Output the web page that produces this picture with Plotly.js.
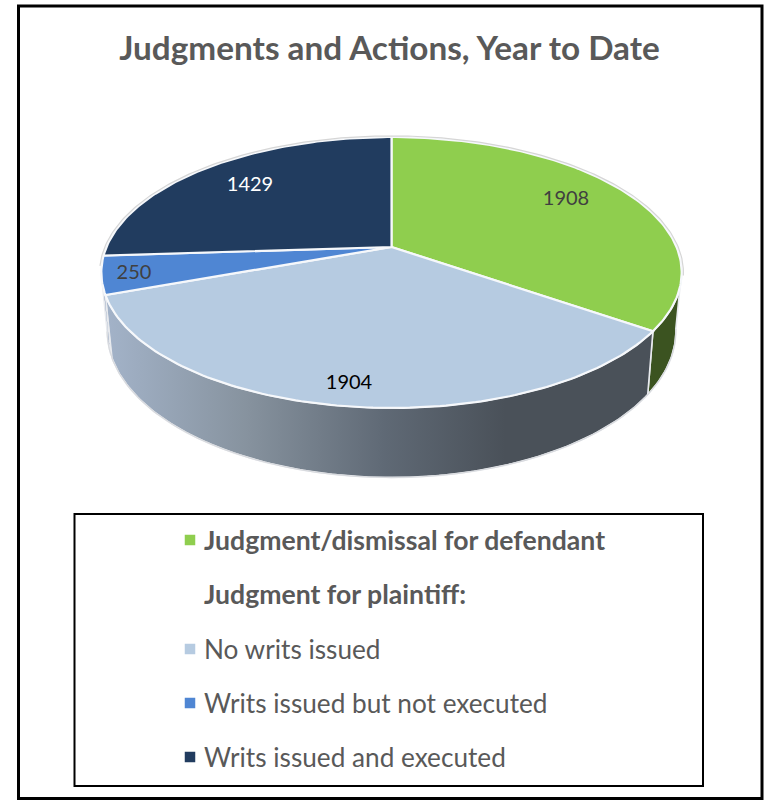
<!DOCTYPE html>
<html><head><meta charset="utf-8">
<script src="https://cdn.plot.ly/plotly-3.0.1.min.js"></script>
<style>html,body{margin:0;padding:0;background:#fff}#c{width:766px;height:800px}</style>
</head><body><div id="c"></div>
<script>
// Data
const categories = ["Judgment/dismissal for defendant", "No writs issued", "Writs issued but not executed", "Writs issued and executed"];
const values = [1908, 1904, 250, 1429];
const sliceColors = ["#8fce4e", "#b6cbe1", "#4f86d3", "#213c5f"];
const labelColors = ["#404040", "#000000", "#404040", "#ffffff"];
const legendHeader = "Judgment for plaintiff:";
const chartTitle = "Judgments and Actions, Year to Date";

// Projection of the tilted pie
const apex = {x: 391.5, y: 247}, B = 285, A = 130.7, P = 0.188, DEPTH = 56.5, SHRINK = 0.98;
function topPt(deg) {
  const t = deg * Math.PI / 180, u = Math.sin(t), v = Math.cos(t), w = 1 + P * v;
  return [apex.x + B * u / w, apex.y - A * v / w, w];
}
function lowPt(deg) {
  const p = topPt(deg);
  return [apex.x + (p[0] - apex.x) * SHRINK, p[1] + DEPTH / p[2]];
}
function arc(a0, a1, f) {
  const n = Math.max(2, Math.ceil(Math.abs(a1 - a0))), out = [];
  for (let i = 0; i <= n; i++) out.push(f(a0 + (a1 - a0) * i / n));
  return out;
}
const total = values.reduce((s, v) => s + v, 0);
let acc = 0;
const bounds = values.map(v => { const a0 = acc / total * 360; acc += v; return [a0, acc / total * 360]; });

const traces = [];
const base = {type: "scatter", mode: "lines", hoverinfo: "skip", showlegend: false};
const sideGrad = [[0, "#a3b3c9"], [0.35, "#87939f"], [0.7, "#5f6975"], [1, "#4a5159"]];
const sideFills = [{fillcolor: "#3b5320"}, {fillgradient: {type: "horizontal", colorscale: sideGrad, start: 105, stop: 505}}, {fillcolor: "#2f5288"}];

// Visible rim, one piece per slice
const FRONT0 = 100, FRONT1 = 259;
bounds.forEach((b, i) => {
  const a0 = Math.max(b[0], FRONT0), a1 = Math.min(b[1], FRONT1);
  if (a1 <= a0) return;
  const poly = arc(a0, a1, topPt).concat(arc(a1, a0, lowPt));
  poly.push(poly[0]);
  traces.push(Object.assign({}, base, {
    x: poly.map(p => p[0]), y: poly.map(p => p[1]), fill: "toself",
    line: {color: "#e8eaee", width: 1.6}
  }, sideFills[i]));
});
// Outer light edge of the lower rim
const lower = arc(FRONT0, FRONT1, lowPt);
traces.push(Object.assign({}, base, {x: lower.map(p => p[0]), y: lower.map(p => p[1]), line: {color: "#d8dade", width: 1.2}}));

// Top face slices
bounds.forEach((b, i) => {
  const poly = [[apex.x, apex.y]].concat(arc(b[0], b[1], topPt));
  poly.push([apex.x, apex.y]);
  traces.push(Object.assign({}, base, {
    name: categories[i], x: poly.map(p => p[0]), y: poly.map(p => p[1]), fill: "toself",
    fillcolor: sliceColors[i], line: {color: "#f6f8fb", width: 2.2}
  }));
});
// Grey highlight outside the back of the top face
const rim = arc(262, 462, d => { const p = topPt(d); return [apex.x + (p[0] - apex.x) * 1.006, apex.y + (p[1] - apex.y) * 1.01]; });
traces.push(Object.assign({}, base, {x: rim.map(p => p[0]), y: rim.map(p => p[1]), line: {color: "#d6d6d6", width: 1.2}}));

// Data labels
const labelX = [566, 349, 134, 250], labelY = [199.5, 384, 273.5, 186];
traces.push({type: "scatter", mode: "text", x: labelX, y: labelY, text: values.map(String),
  textposition: "middle center", hoverinfo: "skip", showlegend: false,
  textfont: {family: "Lato, sans-serif", size: 20, color: labelColors}});

// Legend
const legendRows = [categories[0], legendHeader, categories[1], categories[2], categories[3]];
const legendBold = [true, true, false, false, false];
const legendY = [540, 594, 648.5, 702.5, 756.5];
const swatchY = [540, 649, 703, 757];
traces.push({type: "scatter", mode: "markers", x: swatchY.map(() => 190), y: swatchY, hoverinfo: "skip", showlegend: false,
  marker: {symbol: "square", size: 10.5, color: sliceColors, line: {width: 0}}});
const annotations = legendRows.map((t, i) => ({
  xref: "x", yref: "y", x: 204, y: legendY[i], text: legendBold[i] ? "<b>" + t + "</b>" : t,
  showarrow: false, xanchor: "left", yanchor: "middle", xshift: -2,
  font: {family: "Lato, sans-serif", size: legendBold[i] ? 26.6 : 26.2, color: "#595959"}
}));

const layout = {
  width: 766, height: 800, margin: {l: 0, r: 0, t: 0, b: 0},
  paper_bgcolor: "#fff", plot_bgcolor: "#fff", showlegend: false,
  title: {text: "<b>" + chartTitle + "</b>", x: 389.5 / 766, xanchor: "center", y: 1 - 48 / 800, yanchor: "middle",
    font: {family: "Lato, sans-serif", size: 33.3, color: "#595959"}},
  xaxis: {range: [0, 766], visible: false, fixedrange: true},
  yaxis: {range: [800, 0], visible: false, fixedrange: true},
  annotations,
  shapes: [
    {type: "rect", xref: "x", yref: "y", x0: 18.5, x1: 762, y0: 6, y1: 798.5, line: {color: "#000", width: 3}, layer: "below"},
    {type: "rect", xref: "x", yref: "y", x0: 74.5, x1: 703, y0: 514, y1: 786, line: {color: "#000", width: 2}, layer: "below"}
  ]
};
Plotly.newPlot("c", traces, layout, {displayModeBar: false, staticPlot: true});
</script></body></html>
